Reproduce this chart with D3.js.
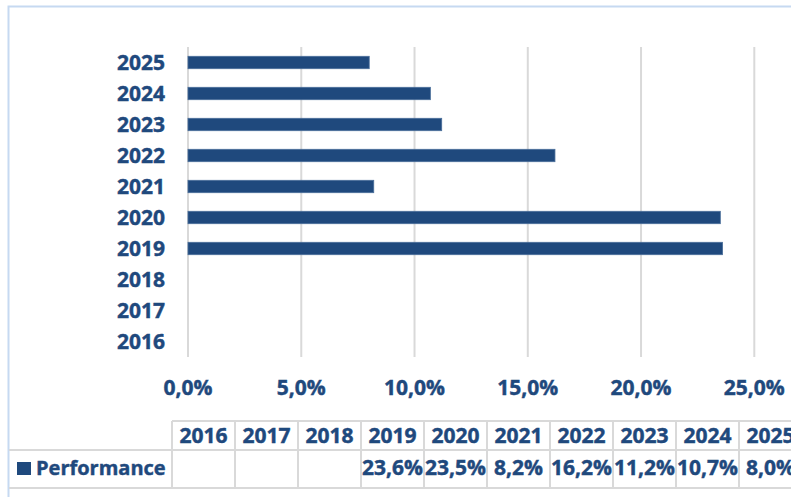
<!DOCTYPE html>
<html>
<head>
<meta charset="utf-8">
<script src="https://cdn.jsdelivr.net/npm/d3@7"></script>
<style>
  body { margin: 0; background: #fff; }
  svg text { font-family: "Open Sans", sans-serif; font-weight: bold; fill: #1f497d; stroke: #1f497d; stroke-width: 0.45px; }
</style>
</head>
<body>
<svg id="chart" width="791" height="497"></svg>
<script>
// Dades
const years = ["2016", "2017", "2018", "2019", "2020", "2021", "2022", "2023", "2024", "2025"];
const performance = [null, null, null, 23.6, 23.5, 8.2, 16.2, 11.2, 10.7, 8.0];
const xTicks = [0, 5, 10, 15, 20, 25];
const seriesName = "Performance";

const blue = "#1f497d";
const gridColor = "#d9d9d9";
const fmt = v => v.toFixed(1).replace(".", ",") + "%";

const svg = d3.select("#chart");

// Marc exterior
svg.append("path")
   .attr("d", "M8.5,497 V6.5 H791")
   .attr("fill", "none")
   .attr("stroke", "#c6d9f1")
   .attr("stroke-width", 2);

// Escales
const x = d3.scaleLinear().domain([0, 25]).range([188, 754.3]);
const y = d3.scaleBand()
            .domain(years.slice().reverse())
            .range([47, 357])
            .paddingInner(0.6)
            .paddingOuter(0.3);

// Graella vertical
svg.append("g")
   .selectAll("line")
   .data(xTicks)
   .join("line")
   .attr("x1", d => x(d)).attr("x2", d => x(d))
   .attr("y1", 47).attr("y2", 357)
   .attr("stroke", gridColor)
   .attr("stroke-width", 2);

// Etiquetes eix X
svg.append("g")
   .selectAll("text")
   .data(xTicks)
   .join("text")
   .attr("x", d => x(d))
   .attr("y", 395)
   .attr("text-anchor", "middle")
   .style("font-size", "21px")
   .text(d => fmt(d));

// Etiquetes eix Y
svg.append("g")
   .selectAll("text")
   .data(years)
   .join("text")
   .attr("x", 165)
   .attr("y", d => y(d) + y.bandwidth() / 2 + 7.5)
   .attr("text-anchor", "end")
   .style("font-size", "21px")
   .text(d => d);

// Barres
const barData = years.map((yr, i) => ({ year: yr, value: performance[i] }))
                     .filter(d => d.value !== null);

svg.append("g")
   .selectAll("rect")
   .data(barData)
   .join("rect")
   .attr("x", x(0))
   .attr("y", d => y(d.year))
   .attr("width", d => x(d.value) - x(0))
   .attr("height", y.bandwidth())
   .attr("fill", blue)
   .attr("stroke", "#4a6e9a")
   .attr("stroke-width", 0.8);

// Taula de dades
const colX = d3.scaleBand().domain(years).range([172, 802]);
const rowTop = 421, rowMid = 450, rowBot = 488;
const table = svg.append("g");

table.append("line")
     .attr("x1", 172).attr("x2", 791).attr("y1", rowTop).attr("y2", rowTop)
     .attr("stroke", gridColor).attr("stroke-width", 2);
[rowMid, rowBot].forEach(yy => {
  table.append("line")
       .attr("x1", 9).attr("x2", 791).attr("y1", yy).attr("y2", yy)
       .attr("stroke", gridColor).attr("stroke-width", 2);
});

table.selectAll("line.col")
     .data([172].concat(years.map(d => colX(d) + colX.bandwidth())))
     .join("line")
     .attr("class", "col")
     .attr("x1", d => d).attr("x2", d => d)
     .attr("y1", rowTop).attr("y2", rowBot)
     .attr("stroke", gridColor).attr("stroke-width", 2);

table.selectAll("text.head")
     .data(years)
     .join("text")
     .attr("class", "head")
     .attr("x", d => colX(d) + colX.bandwidth() / 2)
     .attr("y", 443)
     .attr("text-anchor", "middle")
     .style("font-size", "21px")
     .text(d => d);

table.selectAll("text.val")
     .data(barData)
     .join("text")
     .attr("class", "val")
     .attr("x", d => colX(d.year) + colX.bandwidth() / 2)
     .attr("y", 475)
     .attr("text-anchor", "middle")
     .style("font-size", "21px")
     .text(d => fmt(d.value));

// Llegenda
table.append("rect")
     .attr("x", 17).attr("y", 462)
     .attr("width", 14).attr("height", 13)
     .attr("fill", blue);

table.append("text")
     .attr("x", 36).attr("y", 475)
     .style("font-size", "20px")
     .text(seriesName);
</script>
</body>
</html>
